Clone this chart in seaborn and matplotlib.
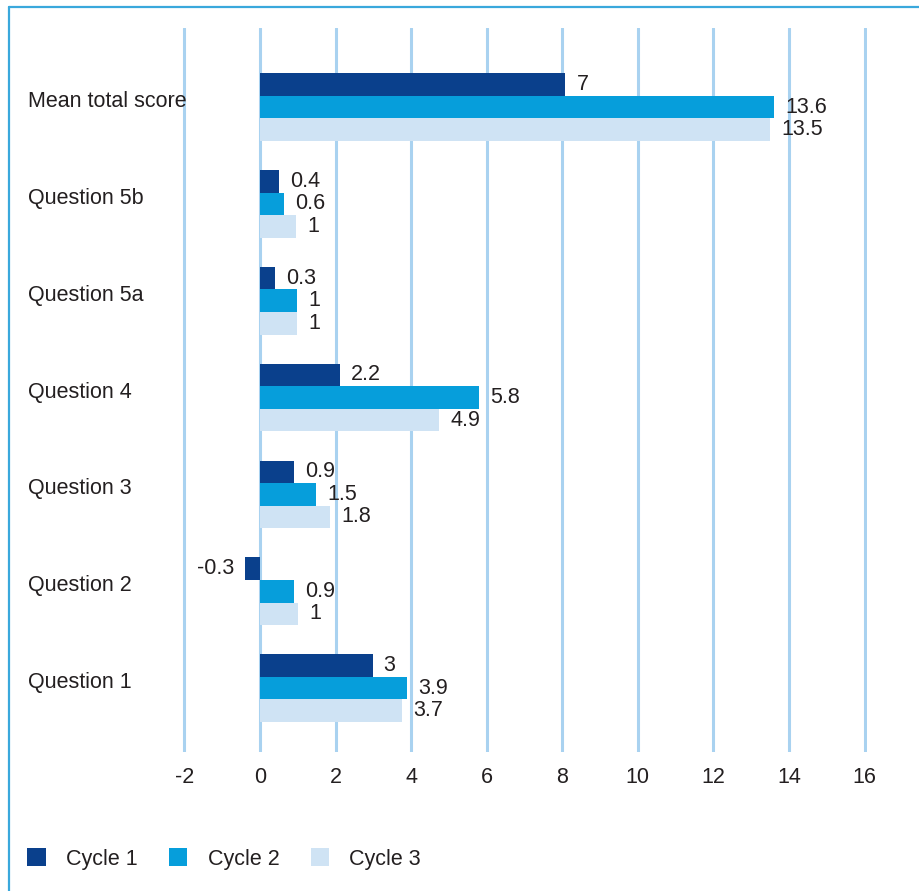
import matplotlib
matplotlib.use("Agg")
import matplotlib.pyplot as plt
import matplotlib.transforms as mtransforms
from matplotlib.patches import Patch
from matplotlib.lines import Line2D
import seaborn as sns
import pandas as pd

categories = ["Mean total score", "Question 5b", "Question 5a", "Question 4",
              "Question 3", "Question 2", "Question 1"]
series_names = ["Cycle 1", "Cycle 2", "Cycle 3"]
# bar lengths as drawn in the picture
cycle1 = [8.08, 0.5, 0.4, 2.12, 0.9, -0.4, 2.98]
cycle2 = [13.6, 0.63, 0.98, 5.8, 1.48, 0.9, 3.9]
cycle3 = [13.5, 0.95, 0.98, 4.75, 1.85, 1.0, 3.76]
# data label texts as printed in the picture
cycle1_labels = ["7", "0.4", "0.3", "2.2", "0.9", "-0.3", "3"]
cycle2_labels = ["13.6", "0.6", "1", "5.8", "1.5", "0.9", "3.9"]
cycle3_labels = ["13.5", "1", "1", "4.9", "1.8", "1", "3.7"]
x_ticks = [-2, 0, 2, 4, 6, 8, 10, 12, 14, 16]
colors = ["#0a408c", "#069edb", "#cfe3f4"]

sns.set_theme(style="white")
plt.rcParams["font.family"] = ["Liberation Sans", "DejaVu Sans"]
TXT = "#231f20"
FS = 15.5

rows = []
for name, vals in zip(series_names, [cycle1, cycle2, cycle3]):
    for c, v in zip(categories, vals):
        rows.append({"category": c, "cycle": name, "value": v})
df = pd.DataFrame(rows)

fig = plt.figure(figsize=(9.2, 8.91), dpi=100)
x0, x1 = 182.2, 866.8
ax = fig.add_axes([x0 / 920, 1 - 752 / 891, (x1 - x0) / 920, (752 - 28) / 891])

sns.barplot(data=df, x="value", y="category", hue="cycle", order=categories,
            hue_order=series_names, palette=colors, orient="h", width=0.7,
            gap=0, saturation=1, ax=ax, legend=False, zorder=3, linewidth=0)

ax.set_xlim(-2.06, 16.06)
ax.set_ylim(6.66, -0.816)
ax.set_xticks(x_ticks)
ax.set_xticklabels([str(t) for t in x_ticks], fontsize=FS, color=TXT)
ax.grid(axis="x", color="#a9d2f0", linewidth=2.2, zorder=0)
ax.grid(axis="y", visible=False)
ax.set_axisbelow(True)
for s in ax.spines.values():
    s.set_visible(False)
ax.set_xlabel("")
ax.set_ylabel("")
ax.tick_params(axis="x", length=0, pad=11)
ax.tick_params(axis="y", length=0, pad=(x0 - 28) * 0.72)
ax.set_yticks(range(len(categories)))
ax.set_yticklabels(categories, fontsize=FS, color=TXT, ha="left")
off = mtransforms.ScaledTranslation(0, 0.08, fig.dpi_scale_trans)
for lab in ax.get_yticklabels():
    lab.set_transform(lab.get_transform() + off)

for cont, labs in zip(ax.containers, [cycle1_labels, cycle2_labels, cycle3_labels]):
    ax.bar_label(cont, labels=labs, padding=8, fontsize=FS, color=TXT)

handles = [Patch(facecolor=c, edgecolor="none", label=n) for c, n in zip(colors, series_names)]
fig.legend(handles=handles, loc="center left", bbox_to_anchor=(8 / 920, 1 - 859 / 891),
           ncol=3, frameon=False, fontsize=FS, handlelength=0.85, handleheight=0.85,
           handletextpad=0.95, columnspacing=1.45, labelcolor=TXT)

bc = "#3aa8dc"
fig.add_artist(Line2D([9 / 920, 9 / 920], [0, 1 - 7 / 891], color=bc, lw=1.6,
                      transform=fig.transFigure))
fig.add_artist(Line2D([9 / 920, 1], [1 - 7 / 891, 1 - 7 / 891], color=bc, lw=1.6,
                      transform=fig.transFigure))

fig.savefig("out.png", dpi=100)
